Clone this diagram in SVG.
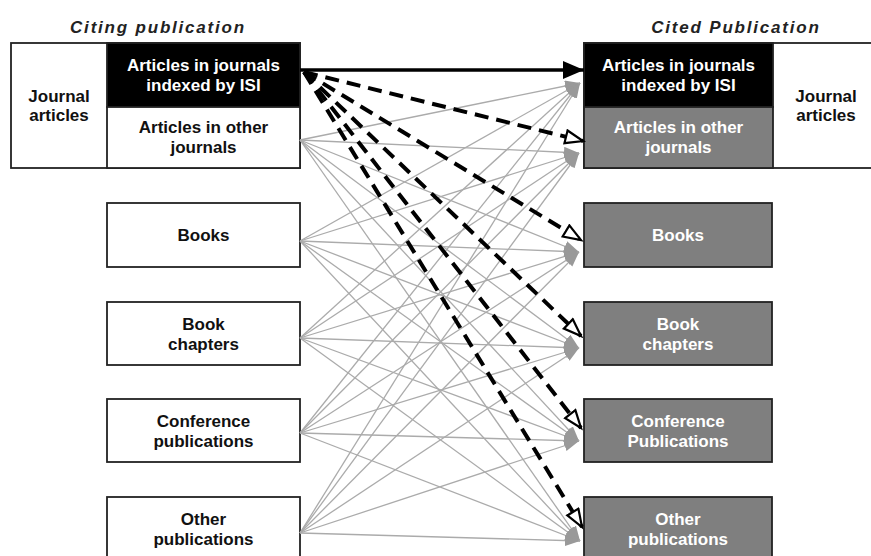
<svg xmlns="http://www.w3.org/2000/svg" width="871" height="556" viewBox="0 0 871 556">
<style>
  .box { stroke: #222; stroke-width: 1.8; }
  .w { fill: #ffffff; }
  .k { fill: #000000; }
  .gr { fill: #7f7f7f; }
  text { font-family: "Liberation Sans", Arial, sans-serif; font-size: 17px; font-weight: bold; text-anchor: middle; }
  .dark { fill: #111; }
  .light { fill: #ffffff; }
  .title { font-style: italic; letter-spacing: 1.8px; fill: #222; }
  .g { stroke: #ababab; stroke-width: 1.3; fill: none; marker-end: url(#ga); }
  .d { stroke: #000; stroke-width: 4; fill: none; stroke-dasharray: 14 8; marker-end: url(#ha); }
  .s { stroke: #000; stroke-width: 3.6; fill: none; marker-end: url(#sa); }
</style>
<defs>
  <marker id="ga" markerUnits="userSpaceOnUse" markerWidth="16" markerHeight="12" refX="15" refY="5.5" orient="auto">
    <path d="M0,0 L15,5.5 L0,11 z" fill="#999"/>
  </marker>
  <marker id="ha" markerUnits="userSpaceOnUse" markerWidth="22" markerHeight="18" refX="19" refY="8" orient="auto">
    <path d="M1.5,1.5 L19,8 L1.5,14.5 z" fill="#fff" stroke="#000" stroke-width="2.2" stroke-linejoin="miter"/>
  </marker>
  <marker id="sa" markerUnits="userSpaceOnUse" markerWidth="22" markerHeight="18" refX="21" refY="9" orient="auto">
    <path d="M0,0 L21,9 L0,18 z" fill="#000"/>
  </marker>
</defs>

<text class="title" x="158" y="33">Citing publication</text>
<text class="title" x="736" y="33">Cited Publication</text>

<g id="citing-journal-articles">
  <rect class="box w" x="11" y="43" width="289" height="125"/>
  <text class="dark" x="59" y="102">Journal</text>
  <text class="dark" x="59" y="121">articles</text>
</g>
<g id="citing-isi">
  <rect class="box k" x="107" y="43" width="193" height="64"/>
  <text class="light" x="203.5" y="71">Articles in journals</text>
  <text class="light" x="203.5" y="91">indexed by ISI</text>
</g>
<g id="citing-other-journals">
  <rect class="box w" x="107" y="107" width="193" height="61"/>
  <text class="dark" x="203.5" y="133">Articles in other</text>
  <text class="dark" x="203.5" y="153">journals</text>
</g>
<g id="citing-books">
  <rect class="box w" x="107" y="203" width="193" height="64"/>
  <text class="dark" x="203.5" y="241">Books</text>
</g>
<g id="citing-chapters">
  <rect class="box w" x="107" y="302" width="193" height="63"/>
  <text class="dark" x="203.5" y="330">Book</text>
  <text class="dark" x="203.5" y="350">chapters</text>
</g>
<g id="citing-conference">
  <rect class="box w" x="107" y="399" width="193" height="63"/>
  <text class="dark" x="203.5" y="427">Conference</text>
  <text class="dark" x="203.5" y="447">publications</text>
</g>
<g id="citing-other">
  <rect class="box w" x="107" y="497" width="193" height="64"/>
  <text class="dark" x="203.5" y="525">Other</text>
  <text class="dark" x="203.5" y="545">publications</text>
</g>

<g id="cited-journal-articles">
  <rect class="box w" x="584" y="43" width="290" height="125"/>
  <text class="dark" x="826" y="102">Journal</text>
  <text class="dark" x="826" y="121">articles</text>
</g>
<g id="cited-isi">
  <rect class="box k" x="584" y="43" width="189" height="64"/>
  <text class="light" x="678.5" y="71">Articles in journals</text>
  <text class="light" x="678.5" y="91">indexed by ISI</text>
</g>
<g id="cited-other-journals">
  <rect class="box gr" x="584" y="107" width="189" height="61"/>
  <text class="light" x="678.5" y="133">Articles in other</text>
  <text class="light" x="678.5" y="153">journals</text>
</g>
<g id="cited-books">
  <rect class="box gr" x="584" y="203" width="188" height="64"/>
  <text class="light" x="678" y="241">Books</text>
</g>
<g id="cited-chapters">
  <rect class="box gr" x="584" y="302" width="188" height="63"/>
  <text class="light" x="678" y="330">Book</text>
  <text class="light" x="678" y="350">chapters</text>
</g>
<g id="cited-conference">
  <rect class="box gr" x="584" y="399" width="188" height="63"/>
  <text class="light" x="678" y="427">Conference</text>
  <text class="light" x="678" y="447">Publications</text>
</g>
<g id="cited-other">
  <rect class="box gr" x="584" y="497" width="188" height="64"/>
  <text class="light" x="678" y="525">Other</text>
  <text class="light" x="678" y="545">publications</text>
</g>

<g id="connectors">
  <g id="gray-links">
    <line class="g" x1="300" y1="140" x2="580" y2="83"/>
    <line class="g" x1="300" y1="140" x2="579" y2="153"/>
    <line class="g" x1="300" y1="140" x2="579" y2="252"/>
    <line class="g" x1="300" y1="140" x2="579" y2="348"/>
    <line class="g" x1="300" y1="140" x2="579" y2="441"/>
    <line class="g" x1="300" y1="140" x2="580" y2="541"/>

    <line class="g" x1="300" y1="241" x2="580" y2="83"/>
    <line class="g" x1="300" y1="241" x2="579" y2="153"/>
    <line class="g" x1="300" y1="241" x2="579" y2="252"/>
    <line class="g" x1="300" y1="241" x2="579" y2="348"/>
    <line class="g" x1="300" y1="241" x2="579" y2="441"/>
    <line class="g" x1="300" y1="241" x2="580" y2="541"/>

    <line class="g" x1="300" y1="338" x2="580" y2="83"/>
    <line class="g" x1="300" y1="338" x2="579" y2="153"/>
    <line class="g" x1="300" y1="338" x2="579" y2="252"/>
    <line class="g" x1="300" y1="338" x2="579" y2="348"/>
    <line class="g" x1="300" y1="338" x2="579" y2="441"/>
    <line class="g" x1="300" y1="338" x2="580" y2="541"/>

    <line class="g" x1="300" y1="433" x2="580" y2="83"/>
    <line class="g" x1="300" y1="433" x2="579" y2="153"/>
    <line class="g" x1="300" y1="433" x2="579" y2="252"/>
    <line class="g" x1="300" y1="433" x2="579" y2="348"/>
    <line class="g" x1="300" y1="433" x2="579" y2="441"/>
    <line class="g" x1="300" y1="433" x2="580" y2="541"/>

    <line class="g" x1="300" y1="533" x2="580" y2="83"/>
    <line class="g" x1="300" y1="533" x2="579" y2="153"/>
    <line class="g" x1="300" y1="533" x2="579" y2="252"/>
    <line class="g" x1="300" y1="533" x2="579" y2="348"/>
    <line class="g" x1="300" y1="533" x2="579" y2="441"/>
    <line class="g" x1="300" y1="533" x2="580" y2="541"/>
  </g>
  <g id="isi-dashed-links">
    <line class="d" x1="304" y1="72" x2="583" y2="141"/>
    <line class="d" x1="304" y1="72" x2="581" y2="240"/>
    <line class="d" x1="304" y1="72" x2="581" y2="336"/>
    <line class="d" x1="304" y1="72" x2="581" y2="428"/>
    <line class="d" x1="304" y1="72" x2="582" y2="527"/>
  </g>
  <line id="isi-solid-link" class="s" x1="300" y1="70" x2="584" y2="70"/>
</g>
</svg>
